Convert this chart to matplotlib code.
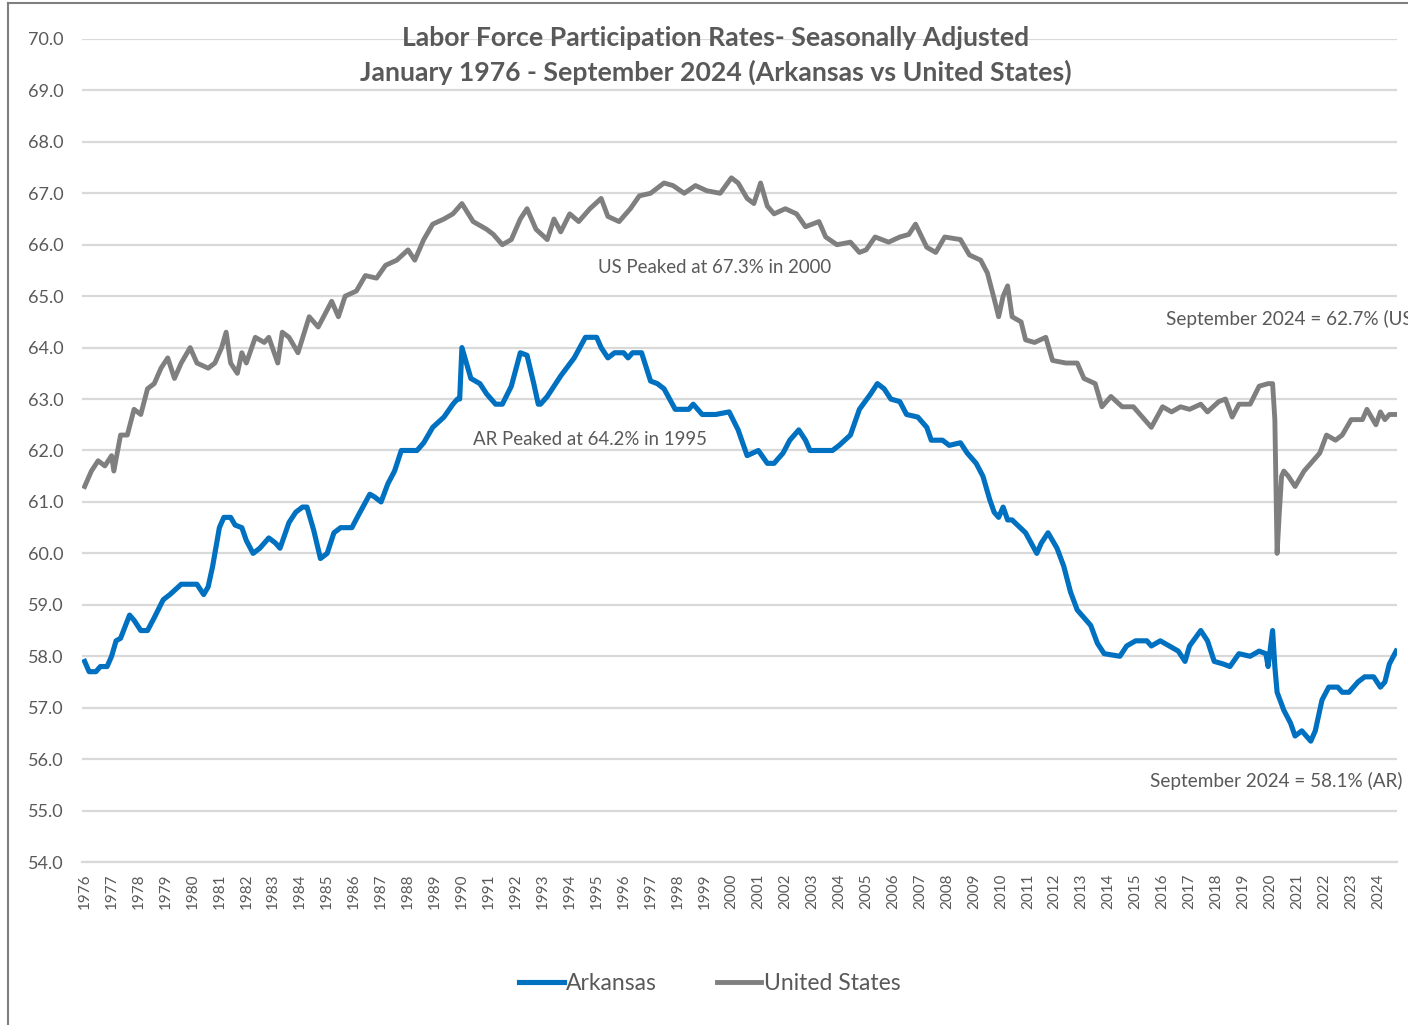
import matplotlib
matplotlib.use("Agg")
import matplotlib.pyplot as plt
from matplotlib.lines import Line2D

plt.rcParams['font.family'] = ['Lato', 'DejaVu Sans']

# monthly readings (YYYY-MM)
us_dates = ["1976-01", "1976-04", "1976-07", "1976-10", "1977-01", "1977-02", "1977-05", "1977-08",
            "1977-11", "1978-02", "1978-05", "1978-08", "1978-11", "1979-02", "1979-05", "1979-08",
            "1979-12", "1980-03", "1980-08", "1980-11", "1981-02", "1981-04", "1981-06", "1981-09",
            "1981-11", "1982-01", "1982-05", "1982-09", "1982-11", "1983-03", "1983-05", "1983-08",
            "1983-12", "1984-05", "1984-09", "1985-03", "1985-06", "1985-09", "1986-02", "1986-06",
            "1986-11", "1987-03", "1987-08", "1988-01", "1988-04", "1988-08", "1988-12", "1989-05",
            "1989-09", "1990-01", "1990-06", "1990-12", "1991-03", "1991-07", "1991-11", "1992-03",
            "1992-06", "1992-10", "1993-03", "1993-06", "1993-09", "1994-01", "1994-05", "1994-10",
            "1995-03", "1995-06", "1995-11", "1996-04", "1996-08", "1997-01", "1997-07", "1997-11",
            "1998-04", "1998-09", "1999-02", "1999-08", "2000-01", "2000-04", "2000-08", "2000-11",
            "2001-02", "2001-05", "2001-08", "2002-01", "2002-06", "2002-10", "2003-04", "2003-07",
            "2003-12", "2004-06", "2004-10", "2005-01", "2005-05", "2005-11", "2006-04", "2006-08",
            "2006-11", "2007-04", "2007-08", "2007-12", "2008-07", "2008-11", "2009-04", "2009-07",
            "2009-10", "2009-12", "2010-02", "2010-04", "2010-06", "2010-10", "2010-12", "2011-04",
            "2011-09", "2011-12", "2012-06", "2012-11", "2013-02", "2013-07", "2013-10", "2014-02",
            "2014-07", "2014-12", "2015-03", "2015-08", "2016-01", "2016-05", "2016-09", "2017-01",
            "2017-06", "2017-09", "2018-02", "2018-05", "2018-08", "2018-11", "2019-04", "2019-08",
            "2019-12", "2020-02", "2020-03", "2020-04", "2020-05", "2020-06", "2020-07", "2020-09",
            "2020-12", "2021-04", "2021-07", "2021-11", "2022-02", "2022-06", "2022-09", "2023-01",
            "2023-06", "2023-08", "2023-12", "2024-02", "2024-04", "2024-06", "2024-09"]
us_rate = [61.3, 61.6, 61.8, 61.7, 61.9, 61.6, 62.3, 62.3,
           62.8, 62.7, 63.2, 63.3, 63.6, 63.8, 63.4, 63.7,
           64.0, 63.7, 63.6, 63.7, 64.0, 64.3, 63.7, 63.5,
           63.9, 63.7, 64.2, 64.1, 64.2, 63.7, 64.3, 64.2,
           63.9, 64.6, 64.4, 64.9, 64.6, 65.0, 65.1, 65.4,
           65.35, 65.6, 65.7, 65.9, 65.7, 66.1, 66.4, 66.5,
           66.6, 66.8, 66.45, 66.3, 66.2, 66.0, 66.1, 66.5,
           66.7, 66.3, 66.1, 66.5, 66.25, 66.6, 66.45, 66.7,
           66.9, 66.55, 66.45, 66.7, 66.95, 67.0, 67.2, 67.15,
           67.0, 67.15, 67.05, 67.0, 67.3, 67.2, 66.9, 66.8,
           67.2, 66.75, 66.6, 66.7, 66.6, 66.35, 66.45, 66.15,
           66.0, 66.05, 65.85, 65.9, 66.15, 66.05, 66.15, 66.2,
           66.4, 65.95, 65.85, 66.15, 66.1, 65.8, 65.7, 65.45,
           64.95, 64.6, 65.0, 65.2, 64.6, 64.5, 64.15, 64.1,
           64.2, 63.75, 63.7, 63.7, 63.4, 63.3, 62.85, 63.05,
           62.85, 62.85, 62.7, 62.45, 62.85, 62.75, 62.85, 62.8,
           62.9, 62.75, 62.95, 63.0, 62.65, 62.9, 62.9, 63.25,
           63.3, 63.3, 62.6, 60.0, 60.8, 61.5, 61.6, 61.5,
           61.3, 61.6, 61.75, 61.95, 62.3, 62.2, 62.3, 62.6,
           62.6, 62.8, 62.5, 62.75, 62.6, 62.7, 62.7]

ar_dates = ["1976-01", "1976-03", "1976-06", "1976-08", "1976-11", "1977-01", "1977-03", "1977-05",
            "1977-09", "1977-11", "1978-02", "1978-05", "1978-08", "1978-12", "1979-03", "1979-08",
            "1980-03", "1980-06", "1980-08", "1980-10", "1981-01", "1981-03", "1981-06", "1981-08",
            "1981-11", "1982-01", "1982-04", "1982-07", "1982-11", "1983-02", "1983-04", "1983-08",
            "1983-11", "1984-02", "1984-04", "1984-07", "1984-10", "1985-01", "1985-04", "1985-07",
            "1985-12", "1986-03", "1986-08", "1986-10", "1987-01", "1987-04", "1987-07", "1987-10",
            "1988-02", "1988-05", "1988-08", "1988-12", "1989-05", "1989-09", "1989-11", "1989-12",
            "1990-01", "1990-03", "1990-05", "1990-09", "1990-12", "1991-04", "1991-07", "1991-11",
            "1992-03", "1992-06", "1992-09", "1992-11", "1992-12", "1993-03", "1993-09", "1994-03",
            "1994-08", "1995-01", "1995-03", "1995-06", "1995-09", "1996-01", "1996-03", "1996-05",
            "1996-09", "1997-01", "1997-04", "1997-07", "1997-12", "1998-06", "1998-08", "1998-12",
            "1999-06", "1999-12", "2000-04", "2000-08", "2001-01", "2001-05", "2001-08", "2001-12",
            "2002-03", "2002-07", "2002-10", "2002-12", "2003-10", "2004-01", "2004-06", "2004-10",
            "2005-03", "2005-06", "2005-09", "2005-12", "2006-04", "2006-07", "2006-12", "2007-04",
            "2007-06", "2007-11", "2008-02", "2008-07", "2008-10", "2009-02", "2009-05", "2009-08",
            "2009-10", "2009-12", "2010-02", "2010-04", "2010-06", "2010-12", "2011-05", "2011-07",
            "2011-10", "2012-02", "2012-05", "2012-08", "2012-11", "2013-05", "2013-08", "2013-11",
            "2014-06", "2014-09", "2015-01", "2015-06", "2015-08", "2015-12", "2016-04", "2016-08",
            "2016-11", "2017-01", "2017-06", "2017-09", "2017-12", "2018-04", "2018-07", "2018-11",
            "2019-04", "2019-08", "2019-11", "2019-12", "2020-02", "2020-03", "2020-04", "2020-07",
            "2020-10", "2020-12", "2021-03", "2021-07", "2021-09", "2021-12", "2022-03", "2022-07",
            "2022-09", "2022-12", "2023-04", "2023-07", "2023-11", "2024-02", "2024-04", "2024-06",
            "2024-09"]
ar_rate = [57.9, 57.7, 57.7, 57.8, 57.8, 58.0, 58.3, 58.35,
           58.8, 58.7, 58.5, 58.5, 58.75, 59.1, 59.2, 59.4,
           59.4, 59.2, 59.35, 59.75, 60.5, 60.7, 60.7, 60.55,
           60.5, 60.25, 60.0, 60.1, 60.3, 60.2, 60.1, 60.6,
           60.8, 60.9, 60.9, 60.45, 59.9, 60.0, 60.4, 60.5,
           60.5, 60.75, 61.15, 61.1, 61.0, 61.35, 61.6, 62.0,
           62.0, 62.0, 62.15, 62.45, 62.65, 62.9, 63.0, 63.0,
           64.0, 63.7, 63.4, 63.3, 63.1, 62.9, 62.9, 63.25,
           63.9, 63.85, 63.3, 62.9, 62.9, 63.05, 63.45, 63.8,
           64.2, 64.2, 64.0, 63.8, 63.9, 63.9, 63.8, 63.9,
           63.9, 63.35, 63.3, 63.2, 62.8, 62.8, 62.9, 62.7,
           62.7, 62.75, 62.4, 61.9, 62.0, 61.75, 61.75, 61.95,
           62.2, 62.4, 62.2, 62.0, 62.0, 62.1, 62.3, 62.8,
           63.1, 63.3, 63.2, 63.0, 62.95, 62.7, 62.65, 62.45,
           62.2, 62.2, 62.1, 62.15, 61.95, 61.75, 61.5, 61.05,
           60.8, 60.7, 60.9, 60.65, 60.65, 60.4, 60.0, 60.2,
           60.4, 60.1, 59.75, 59.25, 58.9, 58.6, 58.25, 58.05,
           58.0, 58.2, 58.3, 58.3, 58.2, 58.3, 58.2, 58.1,
           57.9, 58.2, 58.5, 58.3, 57.9, 57.85, 57.8, 58.05,
           58.0, 58.1, 58.05, 57.8, 58.5, 57.8, 57.3, 56.95,
           56.7, 56.45, 56.55, 56.35, 56.55, 57.15, 57.4, 57.4,
           57.3, 57.3, 57.5, 57.6, 57.6, 57.4, 57.5, 57.85,
           58.1]

years = list(range(1976, 2025))
yticks = list(range(54, 71))


def to_year(d):
    y, m = d.split("-")
    return int(y) + (int(m) - 1) / 12


grey_txt = "#595959"

fig = plt.figure(figsize=(14.08, 10.25), dpi=100)
ax = fig.add_axes([0.0582, 0.159, 0.934, 0.803])

ax.plot([to_year(d) for d in ar_dates], ar_rate, color="#0070C0", lw=3.7,
        solid_joinstyle="round", label="Arkansas", zorder=3)
ax.plot([to_year(d) for d in us_dates], us_rate, color="#7F7F7F", lw=3.5,
        solid_joinstyle="round", label="United States", zorder=3)

ax.set_xlim(1975.9, 2024.7)
ax.set_ylim(54, 70)
ax.set_yticks(yticks)
ax.set_yticklabels([f"{v:.1f}" for v in yticks])
ax.set_xticks(years)
ax.set_xticklabels([str(y) for y in years], rotation=90)
ax.tick_params(axis="y", length=0, pad=13, labelsize=13, labelcolor=grey_txt)
ax.tick_params(axis="x", length=0, pad=8, labelsize=11, labelcolor=grey_txt)
ax.grid(axis="y", color="#D9D9D9", lw=1.6)
ax.set_axisbelow(True)
for s in ["top", "right", "left"]:
    ax.spines[s].set_visible(False)
ax.spines["bottom"].set_color("#D9D9D9")
ax.spines["bottom"].set_linewidth(1.6)

# annotations
ax.text(1999.39, 65.55, "US Peaked at 67.3% in 2000", ha="center", va="center",
        fontsize=13.4, color=grey_txt)
ax.text(1994.75, 62.22, "AR Peaked at 64.2% in 1995", ha="center", va="center",
        fontsize=13.4, color=grey_txt)
ax.text(2016.13, 64.56, "September 2024 = 62.7% (US)", ha="left", va="center",
        fontsize=13.6, color=grey_txt)
ax.text(2015.53, 55.58, "September 2024 = 58.1% (AR)", ha="left", va="center",
        fontsize=13.6, color=grey_txt)

fig.text(0.5085, 0.963, "Labor Force Participation Rates- Seasonally Adjusted",
         ha="center", va="center", fontsize=19.2, fontweight="bold", color=grey_txt)
fig.text(0.5085, 0.929, "January 1976 - September 2024 (Arkansas vs United States)",
         ha="center", va="center", fontsize=19.2, fontweight="bold", color=grey_txt)

fig.legend(loc="center", bbox_to_anchor=(0.504, 0.04), ncol=2, frameon=False,
           fontsize=16.5, handlelength=1.95, handletextpad=0.1, columnspacing=2.6,
           labelcolor=grey_txt)

# outer frame of the original chart box
fig.add_artist(Line2D([8 / 1408, 8 / 1408], [0, 1 - 3 / 1025], color="#7F7F7F", lw=1.5))
fig.add_artist(Line2D([8 / 1408, 1], [1 - 3 / 1025, 1 - 3 / 1025], color="#7F7F7F", lw=1.5))

fig.savefig("out.png", dpi=100)
